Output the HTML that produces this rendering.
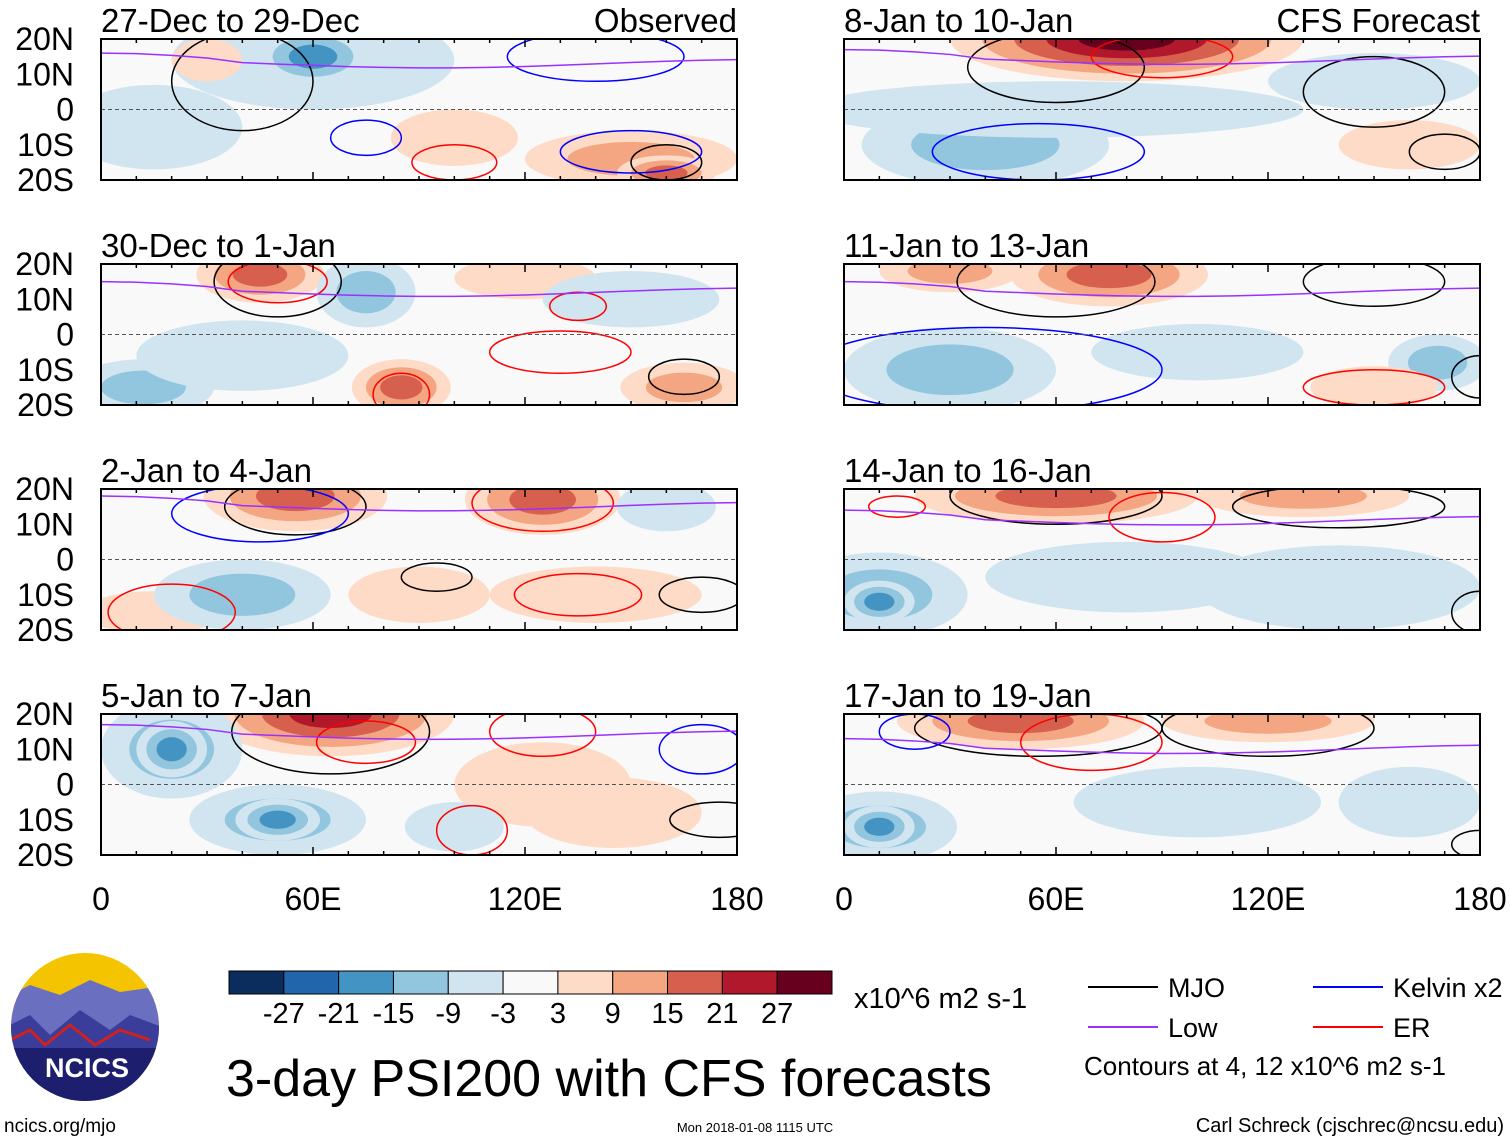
<!DOCTYPE html>
<html><head><meta charset="utf-8"><style>
body{margin:0;background:#fff;}
svg text{font-family:"Liberation Sans",sans-serif;}
</style></head><body>
<svg id="c" width="1510" height="1142" xmlns="http://www.w3.org/2000/svg"></svg>
<script>
// chart data
const panelTitles=["27-Dec to 29-Dec","30-Dec to 1-Jan","2-Jan to 4-Jan","5-Jan to 7-Jan","8-Jan to 10-Jan","11-Jan to 13-Jan","14-Jan to 16-Jan","17-Jan to 19-Jan"];
const panelTags=["Observed","","","","CFS Forecast","","",""];
const latTicks=["20N","10N","0","10S","20S"];
const latVals=[20,10,0,-10,-20];
const lonTicks=["0","60E","120E","180"];
const lonVals=[0,60,120,180];
const levelLabels=["-27","-21","-15","-9","-3","3","9","15","21","27"];
const levelColors=["#0b2d5e","#2166ac","#4393c3","#92c5de","#d1e5f0","#f9f9f9","#fddbc7","#f4a582","#d6604d","#b2182b","#67001f"];
// blobs per panel: [lon, lat, rxDeg, ryDeg, level]
const blobs=[
 [[60,14,40,14,-1],[60,15,16,8,-3],[30,14,10,6,1],[100,-8,18,8,1],[150,-14,30,8,2],[160,-18,14,5,3],[15,-5,25,12,-1]],
 [[45,17,18,8,3],[75,12,14,10,-2],[12,-15,20,8,-2],[85,-15,14,8,3],[165,-15,18,7,2],[120,16,20,6,1],[40,-6,30,10,-1],[150,10,25,8,-1]],
 [[55,18,26,10,3],[125,17,22,10,3],[160,15,14,7,-1],[15,-15,20,6,1],[40,-10,25,10,-2],[140,-10,30,8,1],[90,-10,20,8,1]],
 [[65,20,35,12,4],[20,10,20,14,-2],[20,10,10,8,-3],[50,-10,25,10,-2],[50,-10,12,6,-3],[125,0,25,12,1],[145,-8,25,10,1],[100,-12,14,7,-1]],
 [[80,20,50,12,5],[40,-10,35,12,-2],[60,0,70,8,-1],[160,-10,20,7,1],[150,8,30,8,-1]],
 [[75,17,28,9,3],[30,18,20,6,2],[30,-10,30,12,-2],[168,-8,14,8,-2],[150,-15,18,6,1],[100,-5,30,8,-1]],
 [[60,18,40,8,3],[130,18,30,6,2],[10,-10,25,12,-2],[10,-12,10,6,-3],[140,-8,40,12,-1],[80,-5,40,10,-1]],
 [[50,18,35,8,3],[120,18,30,6,2],[10,-12,22,10,-2],[10,-12,10,6,-3],[100,-5,35,10,-1],[160,-5,20,10,-1]]
];
// contour loops per panel: [lon, lat, rxDeg, ryDeg, type] type 0=MJO 1=Kelvin 2=ER
const contours=[
 [[40,8,20,14,0],[75,-8,10,5,1],[100,-15,12,5,2],[160,-15,10,5,0],[150,-12,20,6,1],[140,15,25,7,1]],
 [[50,15,18,10,0],[85,-17,8,6,2],[165,-12,10,5,0],[130,-5,20,6,2],[135,8,8,4,2],[50,15,14,6,2]],
 [[55,15,20,8,0],[125,16,20,8,2],[95,-5,10,4,0],[170,-10,12,5,0],[20,-15,18,8,2],[135,-10,18,6,2],[45,13,25,8,1]],
 [[65,15,28,12,0],[75,12,14,6,2],[105,-13,10,7,2],[175,-10,14,5,0],[170,10,12,7,1],[125,15,15,7,2]],
 [[60,12,25,10,0],[150,5,20,10,0],[170,-12,10,5,0],[55,-12,30,8,1],[90,15,20,6,2]],
 [[60,15,28,10,0],[150,15,20,7,0],[180,-12,8,6,0],[40,-10,50,12,1],[150,-15,20,5,2]],
 [[60,18,30,8,0],[140,15,30,6,0],[90,12,15,7,2],[180,-15,8,6,0],[15,15,8,3,2]],
 [[55,16,35,8,0],[120,16,30,8,0],[70,12,20,8,2],[20,15,10,5,1],[180,-17,8,4,0]]
];
// lat of purple "Low" line
const lowLat=[13,12,15,14,14,12,11,10];

const S=document.getElementById('c');const NS="http://www.w3.org/2000/svg";
function el(t,a,p){const e=document.createElementNS(NS,t);for(const k in a)e.setAttribute(k,a[k]);(p||S).appendChild(e);return e;}
const colX=[101,844],rowY=[39,264,489,714],PW=636,PH=141;
const cCol=["#000","#0000ff","#ff0000"];
function lvlColor(l){return levelColors[5+l];}
for(let i=0;i<8;i++){
 const col=i<4?0:1,row=i%4,x0=colX[col],y0=rowY[row];
 const X=lon=>x0+lon/180*PW, Y=lat=>y0+(20-lat)/40*PH;
 const g=el('g',{});
 
 
 el('clipPath',{id:'cp'+i},g);
 el('rect',{x:x0,y:y0,width:PW,height:PH},document.getElementById('cp'+i));
 const inner=el('g',{'clip-path':'url(#cp'+i+')'},g);
 el('rect',{x:x0,y:y0,width:PW,height:PH,fill:'#f9f9f9'},inner);
 blobs[i].forEach(b=>{
  const n=Math.abs(b[4]),s=Math.sign(b[4]);
  for(let k=1;k<=n;k++){
   const f=1-(k-1)/(n+0.5);
   const e=el('ellipse',{cx:X(b[0]),cy:Y(b[1]),rx:b[2]/180*PW*f,ry:b[3]/40*PH*f,fill:lvlColor(s*k)},inner);
   
  }
 });
 contours[i].forEach(c=>{
  const e=el('ellipse',{cx:X(c[0]),cy:Y(c[1]),rx:c[2]/180*PW,ry:c[3]/40*PH,fill:'none',stroke:cCol[c[4]],'stroke-width':1.5},inner);
  
 });
 let d='';for(let lo=0;lo<=180;lo+=10){d+=(lo?'L':'M')+X(lo)+' '+Y(lowLat[i]+3*Math.cos(lo/30)*(lo<40?1:0.4));}
 el('path',{d:d,fill:'none',stroke:'#9b30ff','stroke-width':1.5},inner);
 el('line',{x1:x0,x2:x0+PW,y1:Y(0),y2:Y(0),stroke:'#555','stroke-dasharray':'4,3','stroke-width':1},inner);
 el('rect',{x:x0,y:y0,width:PW,height:PH,fill:'none',stroke:'#000','stroke-width':2},g);
 for(let lo=0;lo<=180;lo+=10){const t=lo%60==0?8:4;
  el('line',{x1:X(lo),x2:X(lo),y1:y0,y2:y0+t,stroke:'#000','stroke-width':1.5},g);
  el('line',{x1:X(lo),x2:X(lo),y1:y0+PH,y2:y0+PH-t,stroke:'#000','stroke-width':1.5},g);}
 const tt=el('text',{x:x0,y:y0-7,'font-size':33},g);tt.textContent=panelTitles[i];
 
 if(panelTags[i]){const tg=el('text',{x:x0+PW,y:y0-7,'font-size':33,'text-anchor':'end'},g);tg.textContent=panelTags[i];}
 if(col==0){latVals.forEach((v,j)=>{const t=el('text',{x:74,y:Y(v)+11,'font-size':32,'text-anchor':'end'},g);t.textContent=latTicks[j];
  });}
 if(row==3){lonVals.forEach((v,j)=>{const t=el('text',{x:X(v),y:910,'font-size':32,'text-anchor':'middle'},g);t.textContent=lonTicks[j];
  });}
}
// colorbar
const cb=el('g',{});
const bw=603/11;
levelColors.forEach((c,k)=>el('rect',{x:229+k*bw,y:971,width:bw,height:23,fill:c,stroke:'#000','stroke-width':1},cb));
levelLabels.forEach((l,k)=>{const t=el('text',{x:229+(k+1)*bw,y:1023,'font-size':29,'text-anchor':'middle'},cb);t.textContent=l;});
const u=el('text',{x:854,y:1008,'font-size':29},cb);u.textContent="x10^6 m2 s-1";
// legend
const lg=el('g',{});
[["MJO","#000",1088,987],["Low","#9b30ff",1088,1027],["Kelvin x2","#0000ff",1313,987],["ER","#ff0000",1313,1027]].forEach(a=>{
 el('line',{x1:a[2],x2:a[2]+70,y1:a[3],y2:a[3],stroke:a[1],'stroke-width':2},lg);
 const t=el('text',{x:a[2]+80,y:a[3]+10,'font-size':27},lg);t.textContent=a[0];});
const ct=el('text',{x:1084,y:1075,'font-size':26},lg);ct.textContent="Contours at 4, 12 x10^6 m2 s-1";
// title
const ti=el('text',{x:226,y:1096,'font-size':52},S);ti.textContent="3-day PSI200 with CFS forecasts";

const f1=el('text',{x:4,y:1132,'font-size':19},S);f1.textContent="ncics.org/mjo";
const f2=el('text',{x:755,y:1132,'font-size':13,'text-anchor':'middle'},S);f2.textContent="Mon 2018-01-08 1115 UTC";
const f3=el('text',{x:1504,y:1132,'font-size':20,'text-anchor':'end'},S);f3.textContent="Carl Schreck (cjschrec@ncsu.edu)";
// logo
const lo=el('g',{});
el('clipPath',{id:'lc'},lo);el('circle',{cx:85,cy:1027,r:74},document.getElementById('lc'));
const li=el('g',{'clip-path':'url(#lc)'},lo);
el('rect',{x:0,y:950,width:170,height:160,fill:'#f5c400'},li);
el('path',{d:'M0 1000 L30 985 L60 995 L90 980 L120 992 L170 985 L170 1110 L0 1110Z',fill:'#6a6fc0'},li);
el('path',{d:'M0 1030 L30 1015 L50 1035 L80 1010 L110 1030 L130 1015 L170 1030 L170 1110 L0 1110Z',fill:'#3a3d9a'},li);
el('path',{d:'M10 1040 L30 1030 L45 1045 L70 1025 L95 1045 L120 1030 L150 1040',fill:'none',stroke:'#d02020','stroke-width':3},li);
el('rect',{x:0,y:1048,width:170,height:60,fill:'#1d1f6e'},li);
const nt=el('text',{x:87,y:1077,'font-size':27,'font-weight':'bold',fill:'#fff','text-anchor':'middle'},lo);nt.textContent="NCICS";
</script>
</body></html>
